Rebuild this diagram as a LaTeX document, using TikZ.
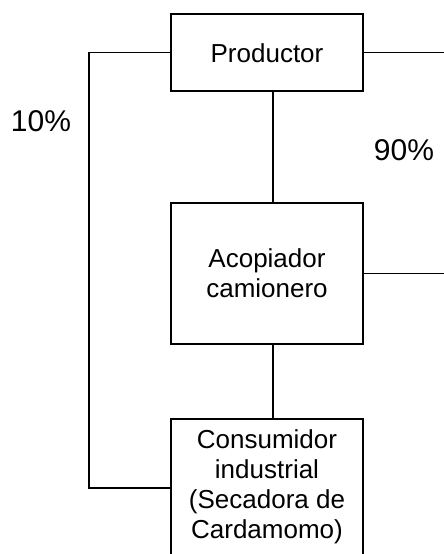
\documentclass[tikz,border=0pt]{standalone}
\usepackage{fontspec}
\setmainfont{Liberation Sans}
\begin{document}
\begin{tikzpicture}[x=1pt,y=-1pt,
  box/.style={draw=black,line width=1.6pt,minimum width=192pt,inner sep=0pt,fill=white},
  boxtext/.style={inner sep=0pt,align=center,font=\fontsize{26}{30.3}\selectfont},
  pct/.style={inner sep=0pt,font=\fontsize{30}{34}\selectfont},
  conn/.style={line width=1.6pt,line cap=rect}]
\useasboundingbox[fill=white] (0,0) rectangle (444,554);
% boxes
\node[box,minimum height=77pt] (prod) at (267,52.5) {};
\node[box,minimum height=141pt] (acop) at (267,273.5) {};
\node[box,minimum height=138pt] (cons) at (267,488) {};
% texts
\node[boxtext,anchor=base] (tprod) at (267,62) {Productor};
\node[boxtext,anchor=north] (tacop) at (267,248) {Acopiador\\camionero};
\node[boxtext,anchor=north] (tcons) at (267,429) {Consumidor\\industrial\\(Secadora de\\Cardamomo)};
\node[pct,anchor=base] (p10) at (41,131) {10\%};
\node[pct,anchor=base] (p90) at (404,160) {90\%};
% helper coordinates
\coordinate (vx) at (273,0);
\coordinate (lx) at (89,0);
\coordinate (rx) at (444,0);
% connectors
\draw[conn] (prod.south -| vx) -- (acop.north -| vx);
\draw[conn] (acop.south -| vx) -- (cons.north -| vx);
\draw[line width=1.6pt] (prod.east) -- (prod.east -| rx);
\draw[line width=1.6pt] (acop.east) -- (acop.east -| rx);
\draw[line width=1.6pt] (prod.west) -- (prod.west -| lx) -- (cons.west -| lx) -- (cons.west);
\end{tikzpicture}
\end{document}
